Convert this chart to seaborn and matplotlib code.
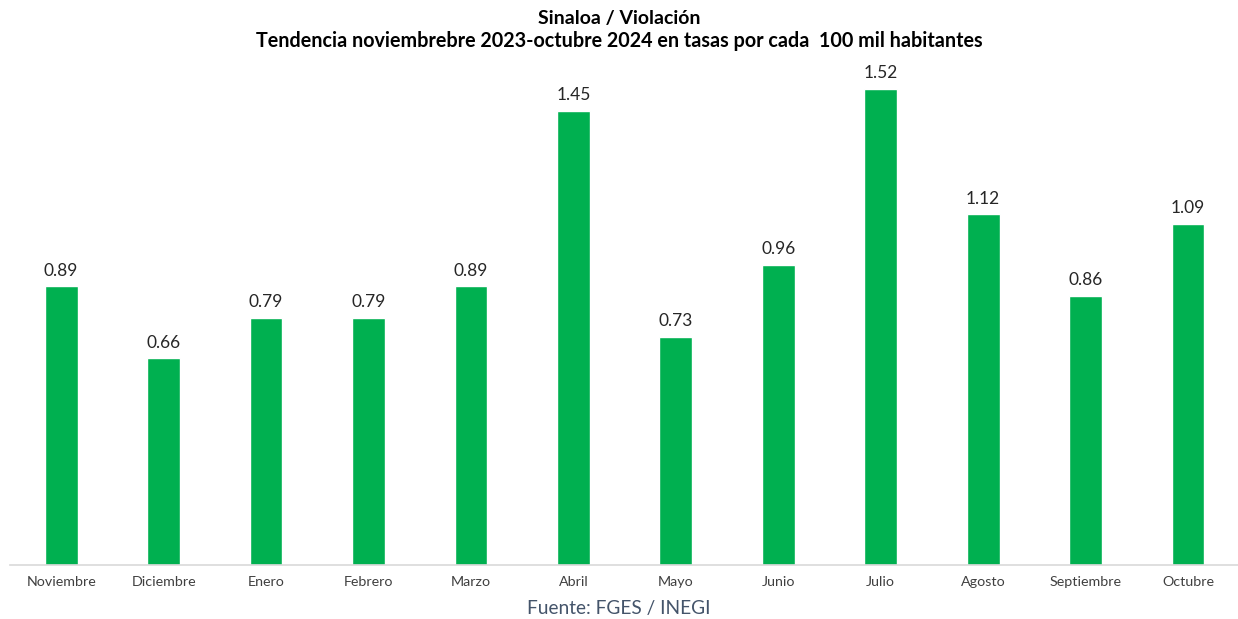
import matplotlib
matplotlib.use("Agg")
import matplotlib.pyplot as plt
import seaborn as sns
import pandas as pd

# Datos: tasa de violación por cada 100 mil habitantes
meses = ["Noviembre", "Diciembre", "Enero", "Febrero", "Marzo", "Abril",
         "Mayo", "Junio", "Julio", "Agosto", "Septiembre", "Octubre"]
tasas = [0.89, 0.66, 0.79, 0.79, 0.89, 1.45, 0.73, 0.96, 1.52, 1.12, 0.86, 1.09]

df = pd.DataFrame({"mes": meses, "tasa": tasas})

sns.set_theme(style="white")
plt.rcParams["font.family"] = ["Lato", "DejaVu Sans"]

fig = plt.figure(figsize=(12.38, 6.19), dpi=100)
ax = fig.add_axes([0.008, 0.0872, 0.993, 0.809])

sns.barplot(data=df, x="mes", y="tasa", color="#00B050", saturation=1,
            width=0.32, ax=ax)

for i, v in enumerate(tasas):
    ax.text(i, v + 0.025, f"{v:.2f}", ha="center", va="bottom",
            fontsize=12.5, color="#262626")

ax.set_ylim(0, 1.6)
ax.set_xlim(-0.5, 11.5)
ax.set_xlabel("")
ax.set_ylabel("")
ax.set_yticks([])
ax.tick_params(axis="x", length=0, labelsize=10.3, labelcolor="#404040", pad=8)
for s in ["top", "right", "left"]:
    ax.spines[s].set_visible(False)
ax.spines["bottom"].set_color("#D9D9D9")
ax.spines["bottom"].set_linewidth(1.2)

fig.text(0.5, 0.97, "Sinaloa / Violación", ha="center", va="center",
         fontsize=14, fontweight="bold", color="black")
fig.text(0.5, 0.933, "Tendencia noviembrebre 2023-octubre 2024 en tasas por cada  100 mil habitantes",
         ha="center", va="center", fontsize=14.2, fontweight="bold", color="black")
fig.text(0.5, 0.004, "Fuente: FGES / INEGI", ha="center", va="bottom",
         fontsize=13.8, color="#44546A")

fig.savefig("out.png", dpi=100)
